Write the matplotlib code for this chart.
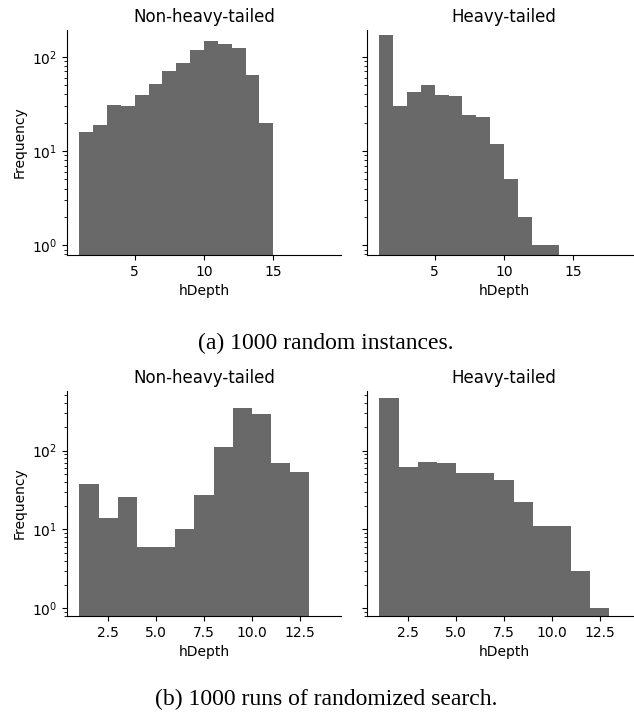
import numpy as np
from matplotlib import pyplot as plt

# counts per unit-width hDepth bin
top_edges = np.arange(1, 20)
top_non_heavy = [16, 19, 31, 30, 39, 51, 70, 86, 118, 147, 136, 124, 64, 20, 0, 0, 0, 0]
top_heavy = [171, 30, 42, 50, 39, 38, 24, 23, 12, 5, 2, 1, 1, 0, 0, 0, 0, 0]

bot_edges = np.arange(1, 15)
bot_non_heavy = [38, 14, 26, 6, 6, 10, 27, 112, 342, 287, 70, 54, 0]
bot_heavy = [458, 61, 72, 70, 52, 52, 42, 22, 11, 11, 3, 1, 0]

titles = ["Non-heavy-tailed", "Heavy-tailed"]
captions = ["(a) 1000 random instances.", "(b) 1000 runs of randomized search."]

W, H = 634, 713
fig = plt.figure(figsize=(W / 100, H / 100), dpi=100)


def px_axes(left, top, width, height):
    return fig.add_axes([left / W, 1 - (top + height) / H, width / W, height / H])


rows = [
    (30, top_edges, [top_non_heavy, top_heavy], (0.1, 19.9), (0.79, 192)),
    (391, bot_edges, [bot_non_heavy, bot_heavy], (0.35, 14.65), (0.80, 568)),
]

for top, edges, series, xlim, ylim in rows:
    for j, counts in enumerate(series):
        ax = px_axes(67 + 300 * j, top, 274, 225)
        ax.hist(edges[:-1], bins=edges, weights=counts, color="dimgray", log=True)
        ax.set_xlim(*xlim)
        ax.set_ylim(*ylim)
        ax.set_title(titles[j], fontsize=12)
        ax.set_xlabel("hDepth")
        ax.spines["top"].set_visible(False)
        ax.spines["right"].set_visible(False)
        if j == 0:
            ax.set_ylabel("Frequency")
        else:
            ax.tick_params(axis="y", which="both", labelleft=False)

fig.text(326 / W, 1 - 343 / H, captions[0], family="Liberation Serif",
         fontsize=17, ha="center", va="center")
fig.text(326 / W, 1 - 699 / H, captions[1], family="Liberation Serif",
         fontsize=17, ha="center", va="center")

fig.savefig("out.png", dpi=100)
